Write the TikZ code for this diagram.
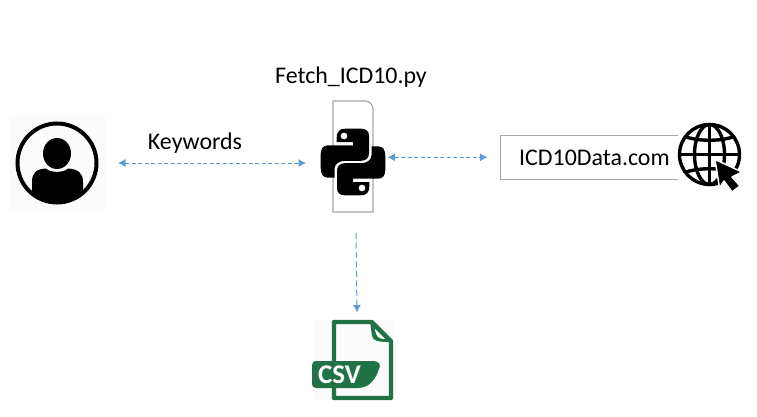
\documentclass[tikz,border=0pt]{standalone}
\usepackage{fontspec}
\setmainfont{Carlito}
\usetikzlibrary{positioning, calc, arrows.meta}
\definecolor{linkblue}{HTML}{5B9BD5}
\definecolor{boxgrey}{HTML}{A6A6A6}
\definecolor{csvgreen}{HTML}{217346}
\tikzset{
    link/.style={draw=linkblue, line width=1pt, dash pattern=on 4pt off 2.5pt, -{Latex[length=7.5pt,width=8pt]}},
    linkboth/.style={link, {Latex[length=7.5pt,width=8pt]}-{Latex[length=7.5pt,width=8pt]}},
    label/.style={font=\fontsize{23.9}{28}\selectfont, inner sep=0pt},
    iconback/.style={fill=black!1.5, draw=none}
}
\begin{document}
\begin{tikzpicture}[x=1pt, y=-1pt]
    \useasboundingbox (0,0) rectangle (757,417);
    % user
    \fill[iconback] (10,115) rectangle (105,211);
    \node (user) [circle, draw, line width=4pt, minimum size=79pt, inner sep=0pt] at (57,163) {};
    \begin{scope}
        \clip (57,163) circle (39pt);
        \fill (32,182) .. controls (32,173) and (36,169) .. (46,168.5) .. controls (50,173) and (64,173) .. (68,168.5) .. controls (78,169) and (83,173) .. (83,182) -- (83,210) -- (32,210) -- cycle;
    \end{scope}
    \fill (57,153.5) ellipse (14pt and 15.5pt);
    \node (keywords) [label] at (195,143) {Keywords};
    % python
    \node (fetch) [label] at (351,77) {Fetch\_ICD10.py};
    \draw[boxgrey, line width=1.2pt] (333,101) -- (365,101) arc[start angle=90, end angle=0, radius=8pt] -- (373,212) -- (333,212) -- cycle;
    \coordinate (python) at (353,162);
    \foreach \r in {0,180} {
        \begin{scope}[shift={(python)}, rotate=\r]
            \fill[even odd rule] (-16.3,-24) .. controls (-16.3,-31) and (-13,-33.3) .. (-8,-33.3) -- (8,-33.3) .. controls (13,-33.3) and (16,-31) .. (16,-26) -- (16,-9) .. controls (16,-4) and (13,-1.2) .. (8,-1.2) -- (-8,-1.2) .. controls (-14,-1.2) and (-18.5,2) .. (-18.5,7) -- (-18.5,15.7) -- (-25,15.7) .. controls (-30,15.7) and (-32.3,12) .. (-32.3,6) -- (-32.3,-8) .. controls (-32.3,-13) and (-30,-16.7) .. (-25,-16.7) -- (0,-16.7) -- (0,-20) -- (-16.3,-20) -- cycle
                (-9,-26) circle (3.5pt);
        \end{scope}
    }
    \coordinate (pyleft) at (306,163);
    \coordinate (userright) at (118,163);
    \coordinate (pyright) at (387.5,157.3);
    \coordinate (boxleft) at (487.5,157.3);
    \coordinate (pybottom) at (356,233);
    \coordinate (csvtop) at (357,312.5);
    \draw[linkboth] (userright) -- (pyleft);
    \draw[linkboth] (pyright) -- (boxleft);
    \draw[link, dash pattern=on 6pt off 3.5pt] (pybottom) -- (csvtop);
    % website
    \node (site) [draw=boxgrey, line width=1.2pt, minimum width=181pt, minimum height=44pt, inner sep=0pt, anchor=north west] at (499.5,135) {};
    \node (sitetext) [label, anchor=west] at (519,158) {ICD10Data.com};
    \fill[white] (678,122) rectangle (743,190);
    \begin{scope}[shift={(709.5,154.5)}, line width=3.4pt]
        \draw (0,0) circle (30pt);
        \draw (0,0) ellipse (15pt and 30pt);
        \draw (0,-30) -- (0,30);
        \draw (-30,0) -- (30,0);
        \draw (-24.5,-18) .. controls (-12,-13) and (12,-13) .. (24.5,-18);
        \draw (-24.5,18) .. controls (-12,13) and (12,13) .. (24.5,18);
    \end{scope}
    \draw[white, fill=black, line width=1.5pt, line join=round] (715,159.5) -- (742,172) -- (732,177) -- (740,186) -- (732,192) -- (724,181) -- (719.5,188) -- cycle;
    % csv
    \fill[iconback] (313,320) rectangle (394,400);
    \draw[csvgreen, line width=4.2pt, line join=round] (334,361) -- (334,322) -- (372,322) -- (391,341) -- (391,398) -- (334,398) -- (334,388);
    \fill[csvgreen] (370,321) -- (372,336) .. controls (373,341) and (378,342) .. (390,342) -- (386,336) -- (374,324) -- cycle;
    \fill[white] (375,329) -- (385,339) .. controls (379,339) and (376,337) .. (375,329) -- cycle;
    \fill[csvgreen] (316,361) -- (372,361) .. controls (380,361) and (381,365) .. (379,369) .. controls (376,378) and (370,388) .. (358,388) -- (316,388) .. controls (313,388) and (312,386) .. (312,384) -- (312,365) .. controls (312,362) and (314,361) .. (316,361) -- cycle;
    \node (csvtext) [font=\bfseries\fontsize{27}{30}\selectfont, text=white, inner sep=0pt] at (339.5,375) {CSV};
\end{tikzpicture}
\end{document}
